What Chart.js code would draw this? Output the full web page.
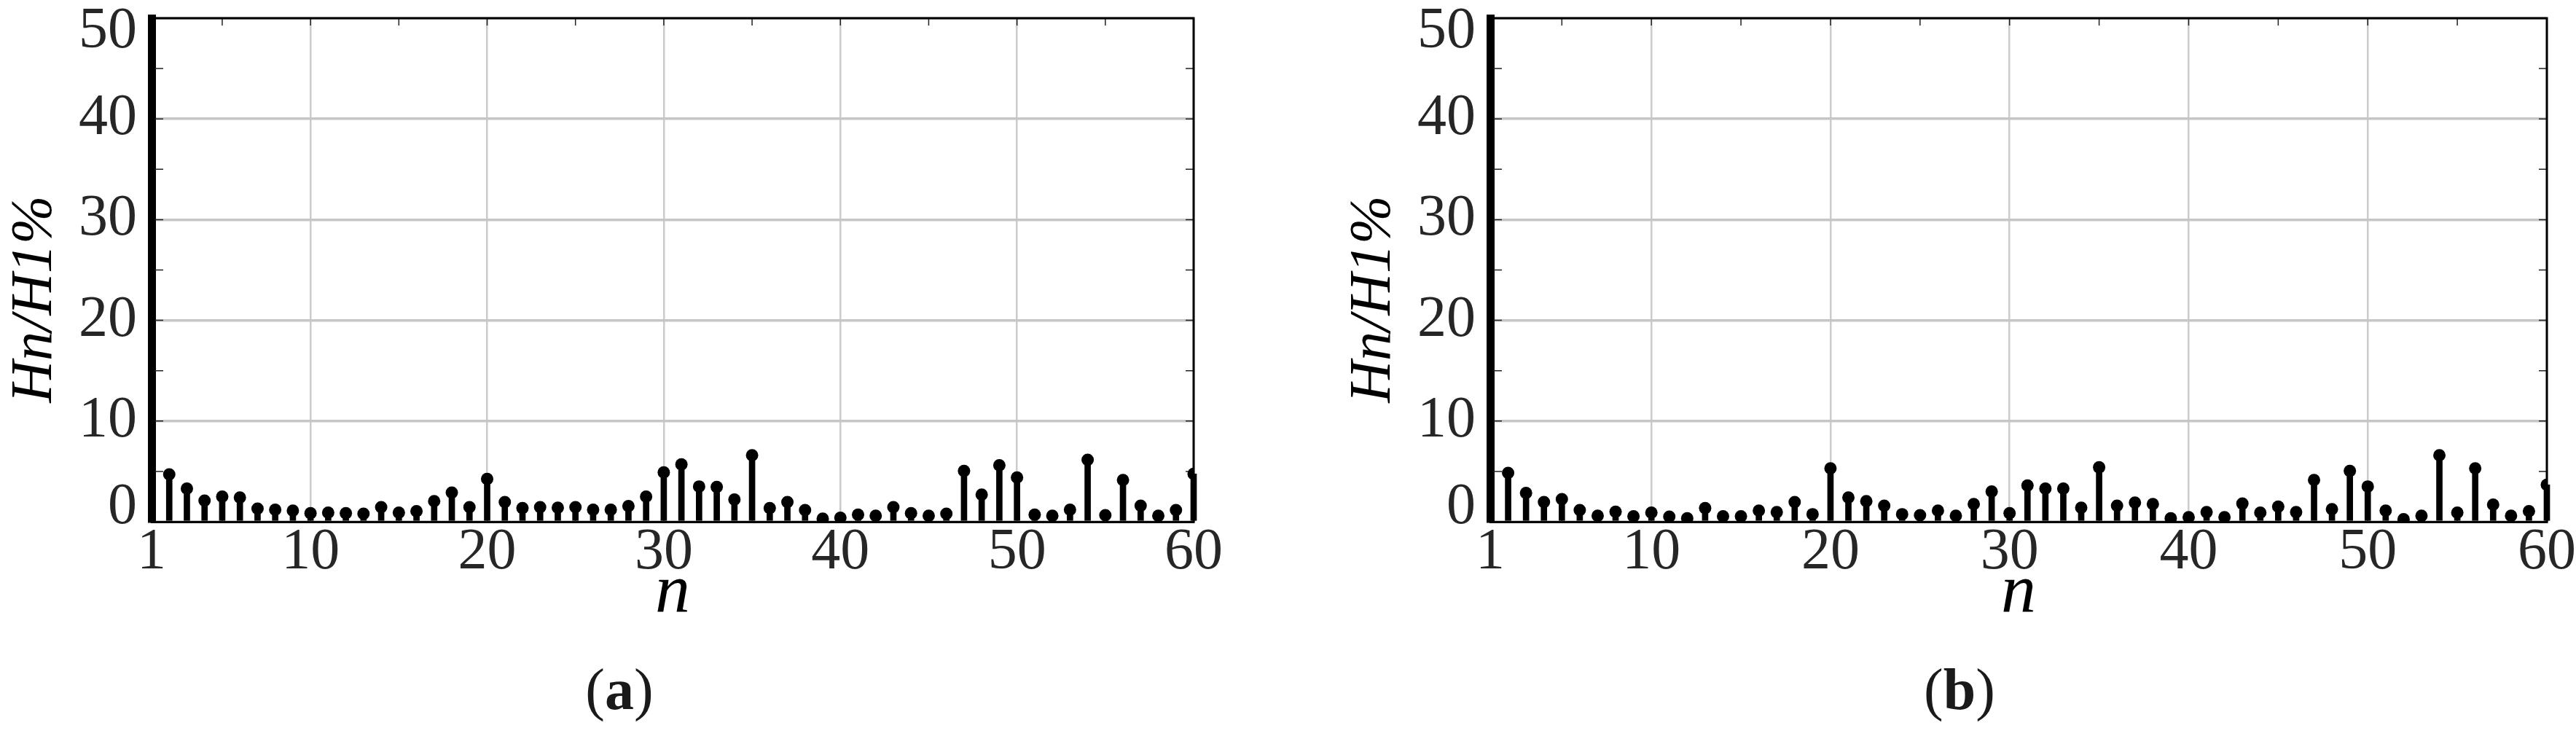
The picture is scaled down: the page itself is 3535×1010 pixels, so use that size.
<!DOCTYPE html>
<html>
<head>
<meta charset="utf-8">
<script src="https://cdn.jsdelivr.net/npm/chart.js@4.4.1/dist/chart.umd.min.js"></script>
<style>
  body { margin: 0; background: #fff; width: 3535px; height: 1010px; overflow: hidden; position: relative; font-family: 'Liberation Serif', serif; }
  .panel { position: absolute; top: 0; }
  .cap { position: absolute; font-size: 80px; line-height: 80px; color: #1a1a1a; transform: translateX(-50%); white-space: nowrap; }
</style>
</head>
<body>
<canvas id="chartA" class="panel" width="1700" height="880" style="left:0px"></canvas>
<canvas id="chartB" class="panel" width="1698" height="880" style="left:1837px"></canvas>
<div class="cap" style="left:850px; top:906px">(<b>a</b>)</div>
<div class="cap" style="left:2689px; top:906px">(<b>b</b>)</div>
<script>
// harmonic order n
var harmonicOrder = [1, 2, 3, 4, 5, 6, 7, 8, 9, 10, 11, 12, 13, 14, 15, 16, 17, 18, 19, 20,
    21, 22, 23, 24, 25, 26, 27, 28, 29, 30, 31, 32, 33, 34, 35, 36, 37, 38, 39, 40,
    41, 42, 43, 44, 45, 46, 47, 48, 49, 50, 51, 52, 53, 54, 55, 56, 57, 58, 59, 60];
var xTickLabels = [1, 10, 20, 30, 40, 50, 60];
var yTickLabels = [0, 10, 20, 30, 40, 50];

// Hn/H1 % , panel (a)
var spectrumA = [100, 4.7, 3.3, 2.1, 2.5, 2.4, 1.3, 1.2, 1.1, 0.85, 0.9, 0.85, 0.8, 1.45, 0.9, 1.05, 2.05, 2.9, 1.45, 4.25,
    1.95, 1.35, 1.45, 1.4, 1.45, 1.2, 1.2, 1.55, 2.5, 4.9, 5.7, 3.5, 3.45, 2.2, 6.6, 1.35, 1.95, 1.15, 0.3, 0.4,
    0.7, 0.6, 1.45, 0.85, 0.6, 0.8, 5.05, 2.7, 5.6, 4.4, 0.7, 0.6, 1.2, 6.15, 0.65, 4.15, 1.6, 0.6, 1.15, 4.75];
// Hn/H1 % , panel (b)
var spectrumB = [100, 4.85, 2.85, 1.95, 2.25, 1.15, 0.6, 1.0, 0.55, 0.9, 0.5, 0.35, 1.35, 0.55, 0.55, 1.1, 0.95, 1.95, 0.75, 5.3,
    2.4, 2.05, 1.6, 0.75, 0.65, 1.1, 0.6, 1.75, 3.0, 0.85, 3.6, 3.3, 3.3, 1.4, 5.4, 1.6, 1.9, 1.75, 0.35, 0.45,
    0.95, 0.45, 1.8, 0.9, 1.5, 0.95, 4.15, 1.25, 5.05, 3.5, 1.1, 0.25, 0.6, 6.6, 0.9, 5.3, 1.7, 0.6, 1.05, 3.67];

var serif = 'Liberation Serif';

// box on top/right + small inward ticks every 5 units
var frameTicks = {
    id: 'frameTicks',
    beforeDatasetsDraw: function (chart) {
        var ctx = chart.ctx, area = chart.chartArea;
        var xs = chart.scales.x, ys = chart.scales.y;
        ctx.save();
        ctx.strokeStyle = '#222';
        ctx.lineWidth = 1.5;
        ctx.beginPath();
        for (var v = 5; v < 60; v += 5) {
            var px = xs.getPixelForValue(v);
            ctx.moveTo(px, area.top); ctx.lineTo(px, area.top + 10);
            ctx.moveTo(px, area.bottom); ctx.lineTo(px, area.bottom - 10);
        }
        for (var w = 5; w < 50; w += 5) {
            var py = ys.getPixelForValue(w);
            ctx.moveTo(area.left, py); ctx.lineTo(area.left + 16, py);
            ctx.moveTo(area.right, py); ctx.lineTo(area.right - 11, py);
        }
        ctx.stroke();
        ctx.restore();
    },
    afterDatasetsDraw: function (chart) {
        var ctx = chart.ctx, area = chart.chartArea;
        ctx.save();
        ctx.strokeStyle = '#000';
        ctx.lineWidth = 3;
        ctx.beginPath();
        ctx.moveTo(area.left, area.top);
        ctx.lineTo(area.right, area.top);
        ctx.lineTo(area.right, area.bottom);
        ctx.stroke();
        ctx.restore();
    }
};

function drawSpectrum(canvasId, values, padRight) {
    var stems = [];
    for (var i = 0; i < harmonicOrder.length; i++) {
        stems.push({ x: harmonicOrder[i], y: values[i] });
    }

    var config = {
        type: 'scatter',
        data: {
            datasets: [{
                type: 'bar',
                data: stems,
                backgroundColor: '#000',
                borderWidth: 0,
                barThickness: 8,
                clip: { left: 6, right: 6, top: 0, bottom: 0 },
                order: 2
            }, {
                type: 'scatter',
                data: stems,
                backgroundColor: '#000',
                pointRadius: 8.5,
                pointBorderWidth: 0,
                order: 1
            }]
        },
        options: {
            responsive: false,
            animation: false,
            events: [],
            layout: { padding: { top: 25, right: padRight, bottom: 0, left: 0 } },
            plugins: { legend: { display: false }, tooltip: { enabled: false } },
            scales: {
                x: {
                    type: 'linear', min: 1, max: 60, offset: false,
                    afterBuildTicks: function (s) { s.ticks = xTickLabels.map(function (v) { return { value: v }; }); },
                    afterFit: function (s) { s.height = 164; s.paddingLeft = 0; s.paddingRight = 0; },
                    grid: { color: '#cbcbcb', lineWidth: 2.5, drawTicks: false, offset: false },
                    border: { color: '#000', width: 3 },
                    ticks: {
                        autoSkip: false, maxRotation: 0, padding: -5, color: '#262626',
                        font: { family: serif, size: 80 },
                        callback: function (v) { return String(v); }
                    },
                    title: {
                        display: true, text: 'n', color: '#000',
                        font: { family: serif, style: 'italic', size: 96, lineHeight: 1 },
                        padding: { top: 0, bottom: 17 }
                    }
                },
                y: {
                    type: 'linear', min: 0, max: 50,
                    afterBuildTicks: function (s) { s.ticks = yTickLabels.map(function (v) { return { value: v }; }); },
                    afterFit: function (s) { s.width = 208; s.paddingTop = 0; s.paddingBottom = 0; },
                    grid: { color: '#c6c6c6', lineWidth: 3.5, drawTicks: false },
                    border: { color: '#000', width: 11 },
                    ticks: {
                        padding: 20, color: '#262626',
                        font: { family: serif, size: 80, lineHeight: 0.48 },
                        callback: function (v) {
                            // end labels sit a bit inside the frame
                            if (v === 0) return ['0', ''];
                            if (v === 50) return ['', '50'];
                            return String(v);
                        }
                    },
                    title: {
                        display: true, text: 'Hn/H1%    ', color: '#000',
                        font: { family: serif, style: 'italic', size: 80, lineHeight: 1 },
                        padding: { top: 9, bottom: 0 }
                    }
                }
            }
        },
        plugins: [frameTicks]
    };
    return new Chart(document.getElementById(canvasId).getContext('2d'), config);
}

drawSpectrum('chartA', spectrumA, 62);
drawSpectrum('chartB', spectrumB, 40);
</script>
</body>
</html>
